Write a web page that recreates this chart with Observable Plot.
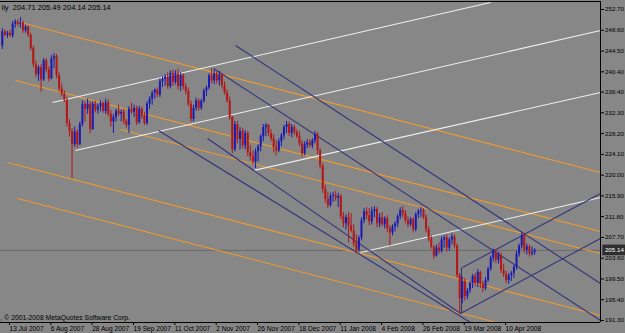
<!DOCTYPE html>
<html><head><meta charset="utf-8">
<script src="https://cdn.jsdelivr.net/npm/d3@7"></script>
<script src="https://cdn.jsdelivr.net/npm/@observablehq/plot@0.6"></script>
<style>
html,body{margin:0;padding:0;background:#878787;}
#chart{width:625px;height:333px;overflow:hidden;}
</style></head><body><div id="chart"></div>
<script>
// GBPJPY daily, bars from 11 Jul 2007 (index -2) to 28 Apr 2008 (index 204)
const open = [245.5,248.3,247.6,248.0,247.5,249.8,250.2,249.8,250.0,248.5,249.2,247.6,245.0,241.8,239.8,241.2,238.8,242.6,240.8,239.0,243.0,243.4,239.6,237.0,236.0,234.8,230.2,228.6,226.0,228.5,226.0,230.0,234.0,233.0,234.0,229.0,234.0,232.8,233.5,234.2,232.6,234.3,232.0,230.5,231.4,232.6,232.0,232.4,230.6,229.8,233.0,232.4,233.2,230.4,233.0,231.6,230.2,234.0,235.0,236.2,236.8,235.8,238.5,238.9,239.4,237.5,240.0,238.3,240.0,237.5,239.6,237.4,236.5,234.0,231.0,233.2,234.6,233.2,234.6,236.6,237.2,239.6,238.6,240.0,238.6,239.8,237.6,236.2,234.6,231.4,225.0,230.0,227.0,228.6,225.8,228.2,224.4,223.6,222.6,224.6,225.6,227.6,229.4,229.8,228.2,227.2,225.4,224.8,226.6,227.8,229.4,230.0,228.2,229.4,228.4,227.6,226.2,224.2,226.0,226.4,225.8,226.8,228.0,224.8,221.8,217.2,215.2,214.0,215.8,216.0,215.4,215.8,211.8,210.4,211.6,210.0,209.0,206.4,205.2,207.6,211.0,212.8,212.0,210.8,212.8,213.2,210.4,211.6,210.2,211.4,209.4,208.6,209.8,210.4,211.8,213.0,212.4,211.0,210.2,211.2,209.2,212.2,212.8,213.0,211.6,209.2,207.4,205.8,204.0,205.6,205.0,207.2,207.6,205.6,207.2,207.8,206.0,200.2,195.6,199.0,196.0,197.2,198.6,200.0,198.6,200.8,198.4,197.6,199.2,201.4,203.6,204.8,203.2,204.2,201.2,200.4,199.2,200.2,200.6,201.8,204.4,206.0,208.0,205.2,205.8,204.4,204.71];
const high = [248.9,248.7,248.4,248.6,250.3,250.7,250.6,251.1,250.4,249.6,249.5,248.0,245.5,242.5,241.6,241.8,243.0,243.0,241.4,243.6,244.0,243.8,240.2,238.0,236.6,235.3,231.0,229.2,229.5,229.0,230.5,234.7,234.5,235.0,234.5,234.5,234.6,234.0,234.7,234.4,235.0,234.8,232.8,232.0,233.0,233.8,232.8,233.0,231.0,233.5,234.2,233.8,233.6,233.6,233.4,232.4,234.5,235.5,236.6,237.0,237.2,239.0,239.4,239.8,240.2,240.6,240.7,240.6,240.9,240.2,240.0,238.0,237.2,234.6,233.8,235.2,235.0,235.0,237.0,237.6,240.0,241.0,240.6,240.4,240.5,240.0,238.4,236.8,235.4,231.6,230.6,230.6,229.4,229.2,228.8,228.6,225.8,224.8,225.2,226.0,228.0,230.0,230.2,230.0,229.0,228.0,226.8,227.2,228.2,229.8,230.6,230.4,230.0,229.8,229.0,228.6,226.8,226.6,227.0,227.0,227.2,228.6,228.4,225.2,222.2,218.0,216.6,216.4,216.6,216.8,216.4,216.2,212.6,212.2,212.6,212.4,210.2,208.2,208.0,211.6,213.4,213.6,213.4,213.6,213.8,213.6,212.4,212.6,211.8,212.0,210.0,210.2,210.8,212.2,213.6,213.8,213.0,211.8,211.6,211.6,212.6,213.2,213.6,213.4,212.2,209.8,208.0,206.0,206.2,206.6,207.8,208.0,208.2,207.6,208.4,208.2,206.4,200.6,199.8,199.6,197.6,199.0,200.4,200.6,201.4,201.0,199.0,199.8,201.8,204.0,205.4,205.2,204.8,204.6,202.4,201.0,200.6,201.0,202.2,205.0,206.4,208.6,208.4,206.4,206.2,205.8,205.49];
const low = [244.8,247.3,247.0,247.2,247.0,249.0,249.3,249.0,248.0,248.0,247.2,244.5,241.3,239.3,238.5,236.4,238.5,240.2,238.4,238.8,241.0,239.0,236.4,235.5,234.3,229.5,227.5,219.3,225.5,225.3,225.8,229.5,230.5,232.0,228.2,228.8,232.3,232.0,232.5,232.2,232.0,231.5,229.5,228.2,230.5,231.6,230.5,230.0,229.3,228.2,232.0,231.4,229.8,230.0,231.0,229.8,229.8,233.0,233.8,235.0,235.3,235.3,237.3,237.6,237.0,237.0,237.5,237.8,236.8,236.5,236.8,235.8,233.5,230.4,230.5,232.6,232.6,232.8,234.2,235.5,236.8,238.0,237.8,238.0,237.6,237.0,235.8,234.2,230.8,224.2,224.6,226.2,225.0,225.2,225.0,223.6,222.8,222.0,221.3,222.6,224.6,226.6,227.6,227.6,226.6,224.4,223.8,224.4,225.6,227.0,228.2,227.6,227.4,227.8,227.2,225.6,223.6,223.8,225.2,225.4,225.2,226.2,224.0,221.2,216.4,214.4,213.4,213.6,214.6,214.8,213.6,211.2,209.6,209.2,206.6,208.6,205.8,204.5,204.8,207.0,210.4,211.2,210.0,210.2,211.6,209.6,209.6,209.8,209.4,208.6,206.0,208.0,208.8,209.6,211.2,211.6,210.4,209.6,209.8,208.6,208.8,211.4,211.6,211.2,208.6,206.8,205.4,203.4,203.8,204.4,204.6,205.6,204.8,205.0,206.2,205.4,199.6,192.6,194.6,195.2,195.4,196.6,197.6,198.0,197.8,197.6,196.8,197.2,198.8,201.0,202.8,202.6,202.4,200.6,199.8,198.6,198.4,199.0,199.6,201.2,203.8,205.4,204.6,204.2,203.8,204.0,204.14];
const close = [248.3,247.6,248.0,247.5,249.8,250.2,249.8,250.0,248.5,249.2,247.6,245.0,241.8,239.8,241.2,238.8,242.6,240.8,239.0,243.0,243.4,239.6,237.0,236.0,234.8,230.2,228.6,226.0,228.5,226.0,230.0,234.0,233.0,234.0,229.0,234.0,232.8,233.5,234.2,232.6,234.3,232.0,230.5,231.4,232.6,232.0,232.4,230.6,229.8,233.0,232.4,233.2,230.4,233.0,231.6,230.2,234.0,235.0,236.2,236.8,235.8,238.5,238.9,239.4,237.5,240.0,238.3,240.0,237.5,239.6,237.4,236.5,234.0,231.0,233.2,234.6,233.2,234.6,236.6,237.2,239.6,238.6,240.0,238.6,239.8,237.6,236.2,234.6,231.4,225.0,230.0,227.0,228.6,225.8,228.2,224.4,223.6,222.6,224.6,225.6,227.6,229.4,229.8,228.2,227.2,225.4,224.8,226.6,227.8,229.4,230.0,228.2,229.4,228.4,227.6,226.2,224.2,226.0,226.4,225.8,226.8,228.0,224.8,221.8,217.2,215.2,214.0,215.8,216.0,215.4,215.8,211.8,210.4,211.6,210.0,209.0,206.4,205.2,207.6,211.0,212.8,212.0,210.8,212.8,213.2,210.4,211.6,210.2,211.4,209.4,208.6,209.8,210.4,211.8,213.0,212.4,211.0,210.2,211.2,209.2,212.2,212.8,213.0,211.6,209.2,207.4,205.8,204.0,205.6,205.0,207.2,207.6,205.6,207.2,207.8,206.0,200.2,195.6,199.0,196.0,197.2,198.6,200.0,198.6,200.8,198.4,197.6,199.2,201.4,203.6,204.8,203.2,204.2,201.2,200.4,199.2,200.2,200.6,201.8,204.4,206.0,208.0,205.2,205.8,204.4,204.71,205.14];
const firstBarIndex = -2;

const yTicks = [252.70,248.60,244.50,240.40,236.40,232.30,228.20,224.10,220.00,215.90,211.80,207.70,203.60,199.50,195.40,191.30];
const xTickIndex = [0,16,32,48,64,80,96,112,128,144,160,176,192];
const xTickLabels = ["13 Jul 2007","6 Aug 2007","28 Aug 2007","19 Sep 2007","11 Oct 2007","2 Nov 2007","26 Nov 2007","18 Dec 2007","11 Jan 2008","4 Feb 2008","26 Feb 2008","19 Mar 2008","10 Apr 2008"];
const lastPrice = 205.14;
const headerText = "ily  204.71 205.49 204.14 205.14";
const copyrightText = ", \u00A9 2001-2008 MetaQuotes Software Corp.";

// trend lines as [barIndex1, price1, barIndex2, price2]
const orangeLines = [
  [5.04,250.13,229.5,220.52],
  [3.11,238.68,229.5,208.87],
  [43.74,229.01,229.5,204.52],
  [0.01,222.49,229.5,192.28],
  [3.88,215.38,189.25,190.9]
];
const whiteLines = [
  [17.42,234.34,186.93,254.08],
  [26.33,224.86,229.5,248.55],
  [95.21,220.91,229.5,236.31],
  [136.62,204.72,229.5,215.58]
];
const navyLines = [
  [88.25,245.59,229.5,198.60],
  [79.73,241.05,229.5,191.29],
  [58.45,228.81,179.19,190.9],
  [77.41,227.23,175.32,192.68],
  [176.09,201.76,229.5,216.37],
  [175.32,192.68,229.5,207.49],
  [175.71,192.68,175.71,201.76]
];

const bars = open.map((o, k) => ({i: k + firstBarIndex, o, h: high[k], l: low[k], c: close[k]}));
const up = bars.filter(d => d.c >= d.o);
const down = bars.filter(d => d.c < d.o);
const seg = arr => arr.map(([x1, y1, x2, y2]) => ({x1, y1, x2, y2}));

const BLUE = "#1a1ab4", RED = "#b41616";
const plot = Plot.plot({
  width: 625, height: 333,
  marginLeft: 0, marginRight: 25, marginTop: 1, marginBottom: 11,
  x: {domain: [-2.7, 229.5]},
  y: {domain: [190.9, 254.28]},
  style: {background: "#878787", fontFamily: "'Liberation Sans', Arial, sans-serif", fontSize: "7px", color: "#000", overflow: "visible"},
  marks: [
    Plot.ruleY([lastPrice], {stroke: "#6a6a6a", strokeWidth: 1}),
    Plot.link(seg(orangeLines), {x1: "x1", y1: "y1", x2: "x2", y2: "y2", stroke: "#eb9a2e", strokeWidth: 1.1}),
    Plot.link(seg(whiteLines), {x1: "x1", y1: "y1", x2: "x2", y2: "y2", stroke: "#eeeeee", strokeWidth: 1.1}),
    Plot.link(seg(navyLines), {x1: "x1", y1: "y1", x2: "x2", y2: "y2", stroke: "#34357c", strokeWidth: 1.1}),
    Plot.ruleX(up, {x: "i", y1: "l", y2: "h", stroke: BLUE, strokeWidth: 1}),
    Plot.ruleX(down, {x: "i", y1: "l", y2: "h", stroke: RED, strokeWidth: 1}),
    Plot.ruleX(up, {x: "i", y1: "o", y2: "c", stroke: BLUE, strokeWidth: 2}),
    Plot.ruleX(down, {x: "i", y1: "o", y2: "c", stroke: RED, strokeWidth: 2}),
    Plot.ruleY([254.28, 190.9], {stroke: "#000", strokeWidth: 1}),
    Plot.ruleX([229.5], {stroke: "#000", strokeWidth: 1}),
    Plot.axisY(yTicks, {anchor: "right", tickSize: 3, tickPadding: 1.5, tickFormat: d => d.toFixed(2), fontSize: 6.2}),
    Plot.axisX(xTickIndex, {anchor: "bottom", tickSize: 3, tickPadding: 1, tickFormat: d => xTickLabels[xTickIndex.indexOf(d)], textAnchor: "start", dx: 2, fontSize: 6.6}),
    Plot.rect([lastPrice], {x1: 230.4, x2: 239.9, y1: d => d - 1.05, y2: d => d + 1.05, fill: "#2e2e2e"}),
    Plot.text([lastPrice], {x: 231.2, y: d => d, text: d => d.toFixed(2), fill: "#fff", textAnchor: "start", fontSize: 6.2}),
    Plot.text([headerText], {frameAnchor: "top-left", dx: 1, dy: 3, lineAnchor: "top", textAnchor: "start", fontSize: 7.5}),
    Plot.text([copyrightText], {frameAnchor: "bottom-left", dx: 0, dy: -3, lineAnchor: "bottom", textAnchor: "start", fontSize: 6.8})
  ]
});
document.getElementById("chart").appendChild(plot);
</script>
</body></html>
